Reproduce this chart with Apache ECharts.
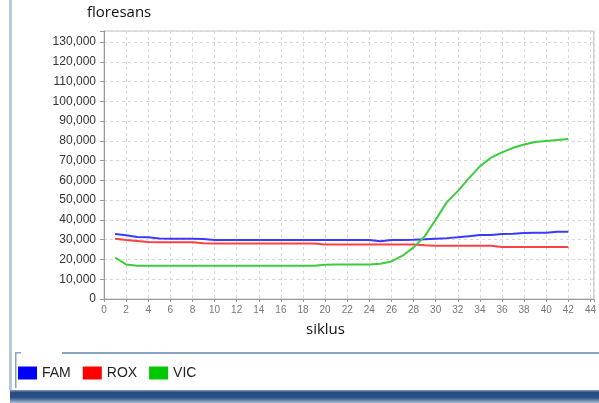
<!DOCTYPE html>
<html>
<head>
<meta charset="utf-8">
<script src="https://cdn.jsdelivr.net/npm/echarts@6/dist/echarts.min.js"></script>
<style>
    html, body { margin: 0; padding: 0; background: #fff; }
    #chartBox { width: 599px; height: 403px; }
</style>
</head>
<body>
<div id="chartBox"></div>
<script>
// siklus 1..42
var cycles = [1,2,3,4,5,6,7,8,9,10,11,12,13,14,15,16,17,18,19,20,21,22,23,24,25,26,27,28,29,30,31,32,33,34,35,36,37,38,39,40,41,42];
var famData = [32900,32200,31400,31200,30600,30500,30500,30500,30400,29900,
               29900,29900,29900,29900,29900,29900,29900,29900,29900,29900,
               29900,29900,29900,29900,29200,29900,29900,30000,30200,30500,
               30800,31200,31800,32400,32400,32900,33000,33400,33500,33500,
               34000,34000];
var roxData = [30500,29800,29300,28800,28700,28700,28700,28700,28200,28100,
               28100,28100,28100,28100,28100,28100,28100,28100,28100,27600,
               27600,27600,27600,27600,27600,27600,27600,27600,27200,27000,
               27000,27000,27000,27000,27000,26300,26300,26300,26300,26300,
               26300,26300];
var vicData = [21000,17500,16800,16800,16800,16800,16800,16800,16800,16800,
               16800,16800,16800,16800,16800,16800,16800,16800,16800,17300,
               17400,17400,17400,17400,17800,19000,21900,26100,31700,40100,
               48900,54600,61000,67100,71500,74200,76500,78200,79400,80000,
               80500,81000];
var seriesNames = ['FAM', 'ROX', 'VIC'];

function pairs(arr) {
    return cycles.map(function (c, i) { return [c, arr[i]]; });
}

var myChart = echarts.init(document.getElementById('chartBox'));

var gridLine = { show: true, lineStyle: { color: '#d8d8d8', type: [3, 3], width: 1 } };

var option = {
    animation: false,
    backgroundColor: '#fff',
    textStyle: { fontFamily: 'Liberation Sans, Arial, sans-serif' },
    grid: {
        left: 104, right: 3, top: 31, bottom: 104,
        show: true, borderColor: '#c4c4c4', borderWidth: 1, backgroundColor: '#fff'
    },
    legend: {
        left: 18, top: 366, padding: 0,
        itemWidth: 19, itemHeight: 13, itemGap: 12,
        icon: 'rect',
        data: seriesNames,
        textStyle: { fontSize: 14, color: '#222', fontFamily: 'Liberation Sans, Arial, sans-serif' }
    },
    xAxis: {
        type: 'value', min: 0, max: 44.3, interval: 2,
        axisLine: { show: true, lineStyle: { color: '#999' } },
        axisTick: { show: true, length: 3, lineStyle: { color: '#999' } },
        axisLabel: {
            color: '#777', fontSize: 10, margin: 6,
            formatter: function (v) { return v % 2 === 0 ? String(v) : ''; }
        },
        splitLine: gridLine
    },
    yAxis: {
        type: 'value', min: 0, max: 135600, interval: 10000,
        axisLine: { show: true, lineStyle: { color: '#999' } },
        axisTick: { show: true, length: 4, lineStyle: { color: '#999' } },
        axisLabel: {
            color: '#333', fontSize: 12, margin: 8,
            formatter: function (v) { return v % 10000 === 0 ? v.toLocaleString('en-US') : ''; }
        },
        splitLine: gridLine
    },
    series: [
        { name: 'FAM', type: 'line', data: pairs(famData), showSymbol: false,
          lineStyle: { color: '#3a3aff', width: 2 }, itemStyle: { color: '#0000ff' } },
        { name: 'ROX', type: 'line', data: pairs(roxData), showSymbol: false,
          lineStyle: { color: '#ff4040', width: 2 }, itemStyle: { color: '#ff0000' } },
        { name: 'VIC', type: 'line', data: pairs(vicData), showSymbol: false,
          lineStyle: { color: '#3ccc3c', width: 2 }, itemStyle: { color: '#00c800' } }
    ],
    graphic: [
        // window frame bits
        { type: 'rect', shape: { x: 9, y: 0, width: 3, height: 390 }, style: { fill: '#b9c9dd' }, silent: true },
        { type: 'rect', shape: { x: 10, y: 390, width: 589, height: 13 },
          style: { fill: new echarts.graphic.LinearGradient(0, 0, 0, 1, [
              { offset: 0, color: '#7f9cc0' }, { offset: 0.2, color: '#24497a' },
              { offset: 0.6, color: '#2c5488' }, { offset: 1, color: '#a9bdd6' }]) }, silent: true },
        { type: 'rect', shape: { x: 62, y: 352, width: 537, height: 2 }, style: { fill: '#86a2c4' }, silent: true },
        { type: 'rect', shape: { x: 15, y: 352, width: 6, height: 1.5 }, style: { fill: '#86a2c4' }, silent: true },
        { type: 'rect', shape: { x: 15, y: 352, width: 1.5, height: 36 }, style: { fill: '#86a2c4' }, silent: true },
        // axis titles
        { type: 'text', left: 87, top: 5,
          style: { text: 'floresans', fontSize: 15, fill: '#111', fontFamily: 'Open Sans, Noto Sans, sans-serif' } },
        { type: 'text', left: 306, top: 322,
          style: { text: 'siklus', fontSize: 15, fill: '#111', fontFamily: 'Open Sans, Noto Sans, sans-serif' } }
    ]
};
myChart.setOption(option);
</script>
</body>
</html>
